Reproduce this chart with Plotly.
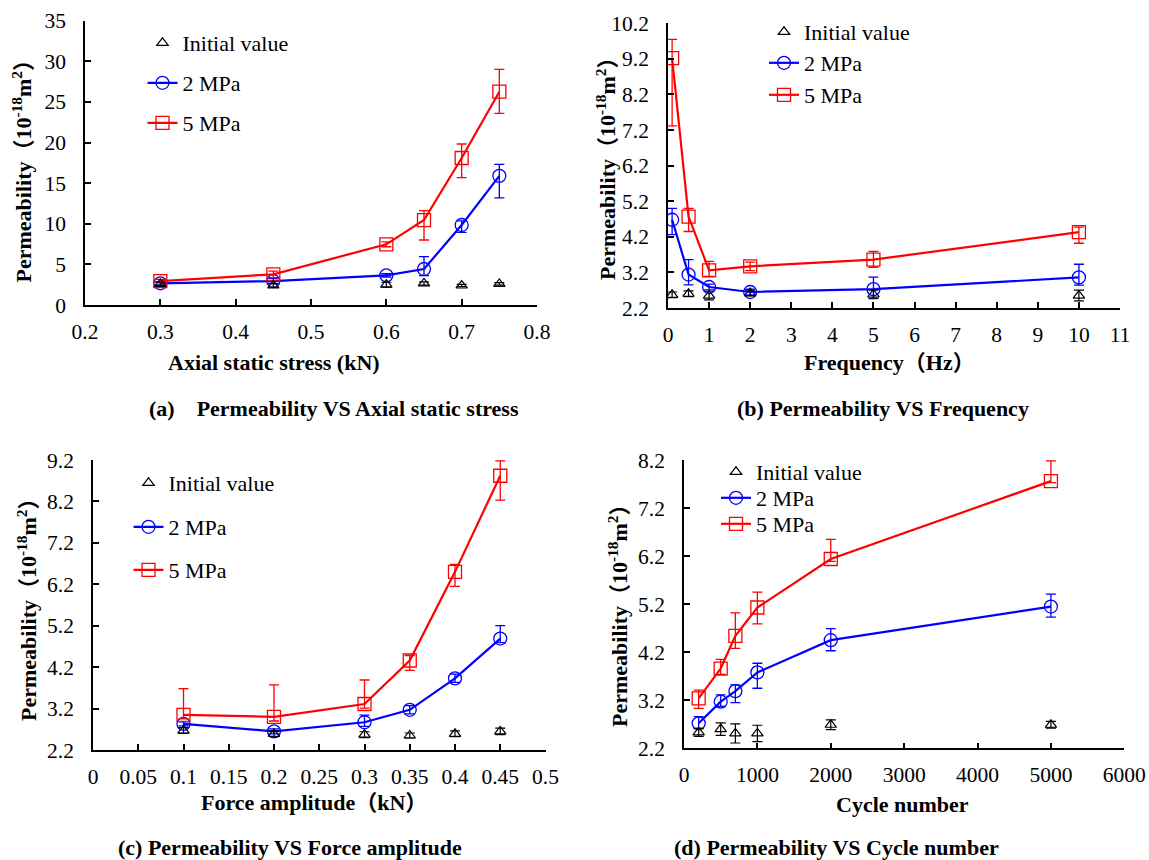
import plotly.graph_objects as go

W, H = 1149, 860
SERIF = "Liberation Serif, Times New Roman, Noto Sans CJK SC, serif"

# ---------------- data ----------------
# (a) axial static stress
xa = [0.3, 0.45, 0.6, 0.65, 0.7, 0.75]
a_init = [2.6, 2.4, 2.5, 2.65, 2.4, 2.6]
a_init_err = [0.2, 0.2, 0.3, 0.2, 0.15, 0.15]
a_2 = [2.67, 2.95, 3.65, 4.43, 9.85, 15.9]
a_2_plus = [0.2, 0.3, 0.2, 1.52, 0.5, 1.4]
a_2_minus = [0.2, 0.3, 0.2, 0.82, 0.9, 2.7]
a_5 = [2.95, 3.78, 7.47, 10.46, 18.1, 26.26]
a_5_plus = [0.2, 0.4, 0.3, 1.15, 1.72, 2.75]
a_5_minus = [0.2, 0.4, 0.3, 2.46, 2.43, 2.66]

# (b) frequency
xb = [0.1, 0.5, 1, 2, 5, 10]
b_init = [2.57, 2.6, 2.55, 2.62, 2.58, 2.55]
b_init_err = [0.08, 0.08, 0.12, 0.08, 0.12, 0.15]
b_2 = [4.68, 3.14, 2.79, 2.65, 2.73, 3.06]
b_2_plus = [0.32, 0.42, 0.08, 0.08, 0.34, 0.37]
b_2_minus = [0.42, 0.29, 0.08, 0.08, 0.25, 0.22]
b_5 = [9.22, 4.77, 3.26, 3.37, 3.56, 4.33]
b_5_plus = [0.53, 0.23, 0.25, 0.12, 0.23, 0.14]
b_5_minus = [1.9, 0.42, 0.17, 0.12, 0.22, 0.31]

# (c) force amplitude
xc = [0.1, 0.2, 0.3, 0.35, 0.4, 0.45]
c_init = [2.67, 2.59, 2.57, 2.55, 2.59, 2.65]
c_init_err = [0.07, 0.07, 0.07, 0.06, 0.07, 0.08]
c_2 = [2.83, 2.65, 2.87, 3.17, 3.93, 4.89]
c_2_plus = [0.05, 0.06, 0.17, 0.1, 0.1, 0.31]
c_2_minus = [0.05, 0.06, 0.1, 0.1, 0.1, 0.1]
c_5 = [3.05, 3.0, 3.31, 4.36, 6.5, 8.82]
c_5_plus = [0.63, 0.77, 0.58, 0.12, 0.18, 0.36]
c_5_minus = [0.1, 0.1, 0.1, 0.24, 0.35, 0.59]

# (d) cycle number
xd = [200, 500, 700, 1000, 2000, 5000]
d_init = [2.53, 2.6, 2.51, 2.51, 2.69, 2.69]
d_init_err = [0.08, 0.13, 0.2, 0.17, 0.1, 0.07]
d_2 = [2.72, 3.17, 3.39, 3.78, 4.45, 5.15]
d_2_plus = [0.14, 0.14, 0.13, 0.19, 0.24, 0.26]
d_2_minus = [0.1, 0.1, 0.24, 0.33, 0.22, 0.22]
d_5 = [3.24, 3.86, 4.54, 5.13, 6.14, 7.76]
d_5_plus = [0.17, 0.19, 0.48, 0.32, 0.41, 0.42]
d_5_minus = [0.21, 0.12, 0.26, 0.34, 0.05, 0.03]

series_names = ["Initial value", "2 MPa", "5 MPa"]

panels = [
    dict(x=xa, init=a_init, ie=a_init_err, s2=a_2, s2p=a_2_plus, s2m=a_2_minus,
         s5=a_5, s5p=a_5_plus, s5m=a_5_minus),
    dict(x=xb, init=b_init, ie=b_init_err, s2=b_2, s2p=b_2_plus, s2m=b_2_minus,
         s5=b_5, s5p=b_5_plus, s5m=b_5_minus),
    dict(x=xc, init=c_init, ie=c_init_err, s2=c_2, s2p=c_2_plus, s2m=c_2_minus,
         s5=c_5, s5p=c_5_plus, s5m=c_5_minus),
    dict(x=xd, init=d_init, ie=d_init_err, s2=d_2, s2p=d_2_plus, s2m=d_2_minus,
         s5=d_5, s5p=d_5_plus, s5m=d_5_minus),
]

x_ranges = [[0.2, 0.8], [0, 11], [0, 0.5], [0, 6000]]
x_dticks = [0.1, 1, 0.05, 1000]
y_ranges = [[0, 35], [2.2, 10.2], [2.2, 9.2], [2.2, 8.2]]
y_dticks = [5, 1, 1, 1]

x_titles = ["Axial static stress (kN)", "Frequency（Hz）",
            "Force amplitude（kN）", "Cycle number"]
y_title = "Permeability（10<sup>-18</sup>m<sup>2</sup>）"
captions = ["(a)    Permeability VS Axial static stress",
            "(b) Permeability VS Frequency",
            "(c) Permeability VS Force amplitude",
            "(d) Permeability VS Cycle number"]

# ---------------- layout geometry (pixels) ----------------
boxes = [(85, 537, 20.7, 305), (668, 1120, 23.3, 308),
         (93, 545.5, 460, 750), (684, 1124.3, 460, 748.3)]
xtitle_pos = [(274, 362), (889, 362), (314, 802), (902, 804)]
ytitle_pos = [(21.5, 166), (606, 163), (27, 604), (618, 610)]
caption_pos = [(334, 408), (883, 408), (290, 847), (836, 847)]
legend_text_x = [182.5, 804, 168.5, 756]
legend_item_y = [(43, 83, 123), (32, 63, 95), (483, 527, 570), (472, 498, 524)]

BLUE = "#0000FF"
RED = "#FF0000"

fig = go.Figure()

layout = dict(
    width=W, height=H,
    margin=dict(l=0, r=0, t=0, b=0, autoexpand=False),
    paper_bgcolor="white", plot_bgcolor="white",
    font=dict(family=SERIF, size=21.5, color="black"),
    showlegend=True,
    annotations=[],
)

leg_idx = 0
for i, p in enumerate(panels):
    k = "" if i == 0 else str(i + 1)
    xa_ref, ya_ref = "x" + k, "y" + k
    legs = []
    for j in range(3):
        leg_idx += 1
        name = "legend" if leg_idx == 1 else "legend" + str(leg_idx)
        legs.append(name)
        layout[name] = dict(
            x=(legend_text_x[i] - 40) / W, y=1 - legend_item_y[i][j] / H,
            xanchor="left", yanchor="middle",
            xref="paper", yref="paper",
            bgcolor="rgba(0,0,0,0)", borderwidth=0,
            font=dict(family=SERIF, size=22, color="black"),
        )
    fig.add_trace(go.Scatter(
        x=p["x"], y=p["s2"], mode="lines+markers", name=series_names[1],
        xaxis=xa_ref, yaxis=ya_ref, legend=legs[1],
        line=dict(color=BLUE, width=2.2),
        marker=dict(symbol="circle-open", size=13, color=BLUE,
                    line=dict(width=1.3, color=BLUE)),
        error_y=dict(type="data", symmetric=False, array=p["s2p"],
                     arrayminus=p["s2m"], color=BLUE, thickness=1.3, width=5),
    ))
    fig.add_trace(go.Scatter(
        x=p["x"], y=p["s5"], mode="lines+markers", name=series_names[2],
        xaxis=xa_ref, yaxis=ya_ref, legend=legs[2],
        line=dict(color=RED, width=2.2),
        marker=dict(symbol="square-open", size=13, color=RED,
                    line=dict(width=1.3, color=RED)),
        error_y=dict(type="data", symmetric=False, array=p["s5p"],
                     arrayminus=p["s5m"], color=RED, thickness=1.3, width=5),
    ))
    fig.add_trace(go.Scatter(
        x=p["x"], y=p["init"], mode="markers", name=series_names[0],
        xaxis=xa_ref, yaxis=ya_ref, legend=legs[0],
        marker=dict(symbol="triangle-up-open", size=10, color="black",
                    line=dict(width=1.2, color="black")),
        error_y=dict(type="data", array=p["ie"], color="black",
                     thickness=1.2, width=5),
    ))

axis_common = dict(
    showline=True, linecolor="black", linewidth=1.5,
    ticks="inside", ticklen=6, tickwidth=1.5, tickcolor="black",
    showgrid=False, zeroline=False, layer="above traces",
    tickfont=dict(family=SERIF, size=21.5, color="black"),
    fixedrange=True,
)

for i in range(4):
    k = "" if i == 0 else str(i + 1)
    L, R, T, B = boxes[i]
    layout["xaxis" + k] = dict(
        axis_common,
        domain=[L / W, R / W], anchor="y" + k,
        range=x_ranges[i], tick0=x_ranges[i][0], dtick=x_dticks[i],
        ticklabelstandoff=6,
    )
    layout["yaxis" + k] = dict(
        axis_common,
        domain=[1 - B / H, 1 - T / H], anchor="x" + k,
        range=y_ranges[i], tick0=y_ranges[i][0], dtick=y_dticks[i],
        ticklabelstandoff=13,
    )
    tx, ty = xtitle_pos[i]
    layout["annotations"].append(dict(
        text="<b>" + x_titles[i] + "</b>", x=tx / W, y=1 - ty / H,
        xref="paper", yref="paper", showarrow=False,
        xanchor="center", yanchor="middle",
        font=dict(family=SERIF, size=22, color="black"),
    ))
    vx, vy = ytitle_pos[i]
    layout["annotations"].append(dict(
        text="<b>" + y_title + "</b>", x=vx / W, y=1 - vy / H,
        xref="paper", yref="paper", showarrow=False, textangle=-90,
        xanchor="center", yanchor="middle",
        font=dict(family=SERIF, size=22, color="black"),
    ))
    cx, cy = caption_pos[i]
    layout["annotations"].append(dict(
        text="<b>" + captions[i].replace("  ", "\u00a0\u00a0") + "</b>",
        x=cx / W, y=1 - cy / H,
        xref="paper", yref="paper", showarrow=False,
        xanchor="center", yanchor="middle",
        font=dict(family=SERIF, size=22, color="black"),
    ))

fig.update_layout(**layout)
fig.write_html("out.html")
